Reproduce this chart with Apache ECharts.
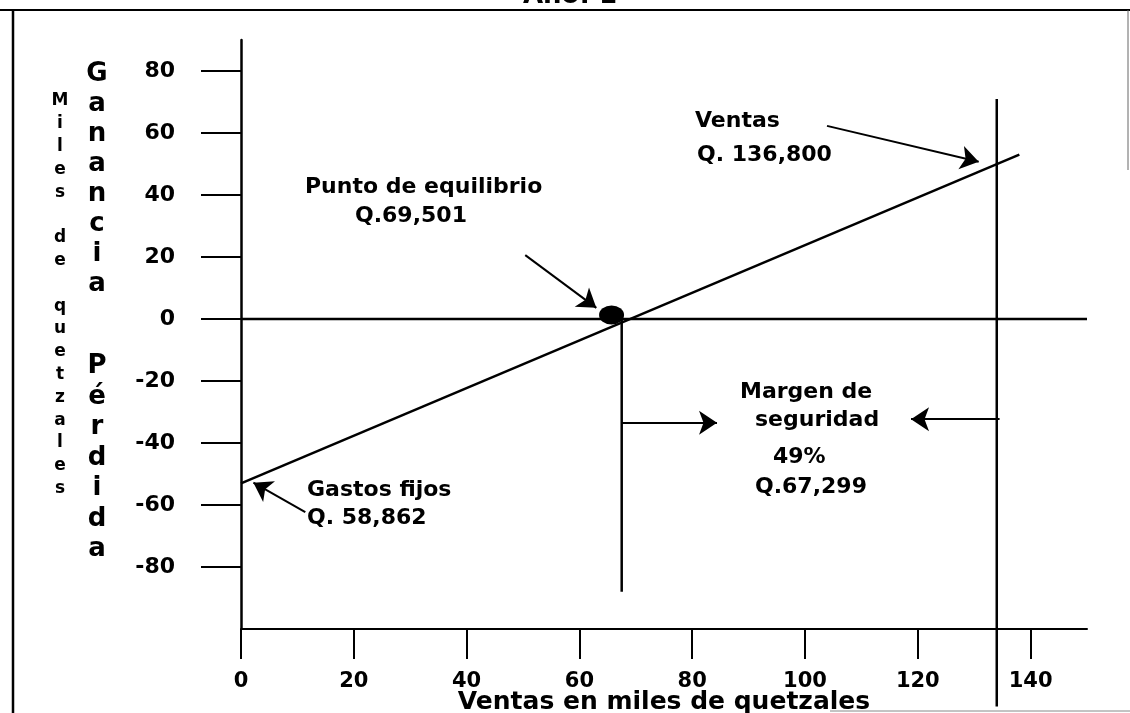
<!DOCTYPE html>
<html>
<head>
<meta charset="utf-8">
<script src="https://cdn.jsdelivr.net/npm/echarts@6/dist/echarts.min.js"></script>
<style>
html,body{margin:0;padding:0;background:#fff;}
#chart{width:1130px;height:713px;}
</style>
</head>
<body>
<div id="chart"></div>
<script>
// ---- data ----
const xTicks = [0, 20, 40, 60, 80, 100, 120, 140];
const yTicks = [-80, -60, -40, -20, 0, 20, 40, 60, 80];
const costLine = [[0, -53], [138, 53]];          // ganancia / pérdida
const zeroLine = [[0, 0], [150, 0]];
const salesLine = [[134, 71], [134, -125]];      // Ventas Q.136,800
const breakEvenDrop = [[67.5, 0], [67.5, -88]];
const breakEvenPoint = [[65.7, 1.3]];
const arrows = [
  [[50.4, 20.6], [63.0, 3.6]],     // Punto de equilibrio
  [[103.9, 62.3], [130.8, 50.7]],  // Ventas
  [[11.4, -62.3], [2.2, -52.8]],   // Gastos fijos
  [[67.5, -33.5], [84.4, -33.5]],  // margen ->
  [[134.5, -32.3], [118.8, -32.3]] // margen <-
];
const noteTexts = ['Ventas', 'Q. 136,800', 'Punto de equilibrio', 'Q.69,501',
  'Margen de', 'seguridad', '49%', 'Q.67,299', 'Gastos fijos', 'Q. 58,862'];
const yTitleOuter = 'Miles de quetzales';
const yTitleTop = 'Ganancia';
const yTitleBottom = 'Pérdida';
const xTitle = 'Ventas en miles de quetzales';
const pageTitle = 'Año: 1';

// ---- layout (pixel positions of free text) ----
const notePos = [[695, 121], [697, 155], [305, 187], [355, 216], [740, 392],
  [755, 420], [773, 457], [755, 487], [307, 490], [307, 518]];

const FONT = '"DejaVu Sans", sans-serif';
const vert = s => s.split('').join('\n');

const chart = echarts.init(document.getElementById('chart'));

const blackLine = (data, extra) => Object.assign({
  type: 'line', data: data, symbol: 'none', silent: true, animation: false,
  lineStyle: {color: '#000', width: 2.5}
}, extra || {});

const graphics = [
  {type: 'line', shape: {x1: 0, y1: 10, x2: 1130, y2: 10}, style: {stroke: '#000', lineWidth: 2}},
  {type: 'line', shape: {x1: 13, y1: 10, x2: 13, y2: 713}, style: {stroke: '#000', lineWidth: 2.5}},
  {type: 'line', shape: {x1: 1128, y1: 10, x2: 1128, y2: 170}, style: {stroke: '#666', lineWidth: 1}},
  {type: 'line', shape: {x1: 830, y1: 711, x2: 1130, y2: 711}, style: {stroke: '#888', lineWidth: 1}},
  {type: 'text', x: 570, y: 9, style: {text: pageTitle, font: 'bold 26px ' + FONT, fill: '#000', align: 'center', verticalAlign: 'bottom'}},
  {type: 'text', x: 60, y: 89.6, style: {text: vert(yTitleOuter), font: 'bold 17px ' + FONT, lineHeight: 22.8, fill: '#000', align: 'center', verticalAlign: 'top'}},
  {type: 'text', x: 97, y: 59, style: {text: vert(yTitleTop), font: 'bold 26px ' + FONT, lineHeight: 30, fill: '#000', align: 'center', verticalAlign: 'top'}},
  {type: 'text', x: 97, y: 351, style: {text: vert(yTitleBottom), font: 'bold 26px ' + FONT, lineHeight: 30.5, fill: '#000', align: 'center', verticalAlign: 'top'}}
];
noteTexts.forEach((t, i) => graphics.push({
  type: 'text', x: notePos[i][0], y: notePos[i][1],
  style: {text: t, font: 'bold 22px ' + FONT, fill: '#000', align: 'left', verticalAlign: 'middle'}
}));

chart.setOption({
  animation: false,
  backgroundColor: '#fff',
  grid: {left: 241, right: 43, top: 40, bottom: 84, containLabel: false, outerBoundsMode: 'none'},
  xAxis: {
    type: 'value', min: 0, max: 150, interval: 20,
    name: xTitle, nameLocation: 'middle', nameGap: 61, nameMoveOverlap: false,
    nameTextStyle: {fontFamily: FONT, fontWeight: 'bold', fontSize: 25, color: '#000', verticalAlign: 'top'},
    axisLine: {show: true, onZero: false, lineStyle: {color: '#000', width: 2}},
    axisTick: {show: true, length: 30, customValues: xTicks, lineStyle: {color: '#000', width: 2}},
    axisLabel: {customValues: xTicks, margin: 42, fontFamily: FONT, fontWeight: 'bold', fontSize: 21, color: '#000',
      formatter: v => xTicks.indexOf(v) >= 0 ? String(v) : ''},
    splitLine: {show: false}
  },
  yAxis: {
    type: 'value', min: -100, max: 90, interval: 20,
    axisLine: {show: true, onZero: false, lineStyle: {color: '#000', width: 2.5}},
    axisTick: {show: true, length: 40, customValues: yTicks, lineStyle: {color: '#000', width: 2}},
    axisLabel: {customValues: yTicks, margin: 66, fontFamily: FONT, fontWeight: 'bold', fontSize: 22, color: '#000',
      formatter: v => yTicks.indexOf(v) >= 0 ? String(v) : ''},
    splitLine: {show: false}
  },
  series: [
    blackLine(zeroLine),
    blackLine(costLine),
    blackLine(salesLine, {clip: false}),
    blackLine(breakEvenDrop),
    {
      type: 'scatter', data: breakEvenPoint, symbol: 'circle', symbolSize: [25, 19],
      itemStyle: {color: '#000', opacity: 1}, silent: true
    },
    {
      type: 'lines', coordinateSystem: 'cartesian2d', polyline: false,
      symbol: ['none', 'arrow'], symbolSize: 18, silent: true,
      lineStyle: {color: '#000', width: 2, opacity: 1},
      data: arrows.map(a => ({coords: a}))
    }
  ],
  graphic: graphics
});
</script>
</body>
</html>
